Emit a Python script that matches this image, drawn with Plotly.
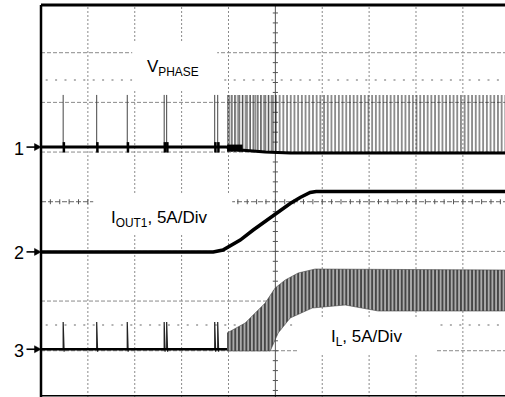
import plotly.graph_objects as go

# ---------------- data (oscilloscope divisions: x 0..10, y 0..8) ----------------
# isolated pre-start switching pulses (time, div)
pulse_t = [0.473, 1.188, 1.84, 2.628, 2.681, 3.706, 3.77]

# CH1  V_PHASE
vph_base_x = [0.0, 3.951, 4.25, 4.783, 5.316, 9.9]
vph_base_y = [5.102, 5.102, 5.041, 5.001, 4.98, 4.98]
vph_pulse_top = 6.15
vph_sw_x = [3.97, 9.9]          # continuous switching region
vph_sw_top = [6.15, 6.15]
vph_sw_low = [5.0, 4.98]
vph_dense_x = [3.97, 5.0]       # denser start-up switching
vph_burst_x = [3.97, 4.3]       # dense start-up burst at the baseline
vph_burst_y = [5.08, 5.08]

# CH2  I_OUT1 (5 A/div)
iout_x = [0.0, 3.674, 3.881, 4.02, 4.25, 4.527, 4.783, 5.018, 5.316, 5.529, 5.742, 5.87, 9.9]
iout_y = [2.988, 2.988, 3.028, 3.11, 3.229, 3.43, 3.601, 3.773, 3.964, 4.085, 4.186, 4.206, 4.206]

# CH3  I_L (5 A/div)
il_base_x = [0.0, 3.97]
il_base_y = [1.029, 1.029]
il_pulse_top = 1.578
il_low_x = [3.97, 4.89, 5.06, 5.316, 5.786, 6.49, 7.194, 9.9]
il_low_y = [0.995, 0.995, 1.357, 1.659, 1.86, 1.921, 1.8, 1.8]
il_up_x = [3.97, 4.356, 4.783, 4.996, 5.21, 5.487, 5.849, 9.9]
il_up_y = [1.357, 1.558, 1.961, 2.263, 2.424, 2.565, 2.645, 2.625]

ch_labels = ["1", "2", "3"]
ch_levels = [5.10, 2.99, 1.03]

# ---------------- layout geometry ----------------
W, H = 505, 397
ML, MT = 41, 5
PW, PH = W - ML, H - MT
XR = [0, 9.899]
YR = [0.0685, 7.9605]


def ypx(v):
    return MT + (YR[1] - v) / (YR[1] - YR[0]) * PH


def paper_x(px):
    return (px - ML) / PW


def paper_y(py):
    return (H - py) / PH


fig = go.Figure()
shapes = []
GRID = "#8a8a8a"

# grid
for k in range(1, 10):
    if k == 5:
        continue
    shapes.append(dict(type="line", xref="x", yref="y", x0=k, x1=k, y0=YR[0], y1=YR[1],
                       line=dict(color=GRID, width=1, dash="2px,2px"), layer="below"))
for j in [1, 2, 3, 5, 6, 7]:
    shapes.append(dict(type="line", xref="x", yref="y", x0=0, x1=XR[1], y0=j, y1=j,
                       line=dict(color=GRID, width=1, dash="4px,2px"), layer="below"))
# sparse dotted reference lines
for j in [6.45, 1.52]:
    shapes.append(dict(type="line", xref="x", yref="y", x0=0.1, x1=XR[1], y0=j, y1=j,
                       line=dict(color="#9a9a9a", width=1.5, dash="2px,7.4px"), layer="below"))
# centre axes with ticks
shapes.append(dict(type="line", xref="x", yref="y", x0=5, x1=5, y0=YR[0], y1=YR[1],
                   line=dict(color="#555", width=1), layer="below"))
shapes.append(dict(type="line", xref="x", yref="y", x0=0, x1=XR[1], y0=4, y1=4,
                   line=dict(color="#666", width=1, dash="5px,2px"), layer="below"))
path = ""
for k in range(1, 40):
    yy = k * 0.2
    path += f"M{5-0.055},{yy} L{5+0.055},{yy} "
for k in range(1, 50):
    xx = k * 0.2
    path += f"M{xx},{4-0.05} L{xx},{4+0.05} "
shapes.append(dict(type="path", xref="x", yref="y", path=path,
                   line=dict(color="#555", width=1), layer="below"))

# white label boxes
for (x0, x1, y0, y1) in [(1.946, 3.758, 6.249, 7.216), (1.114, 4.079, 3.37, 4.176),
                         (5.489, 8.41, 0.914, 1.679)]:
    shapes.append(dict(type="rect", xref="x", yref="y", x0=x0, x1=x1, y0=y0, y1=y1,
                       fillcolor="white", line=dict(width=0), layer="below"))

# frame
shapes.append(dict(type="line", xref="paper", yref="paper", x0=0, x1=1, y0=1, y1=1,
                   line=dict(color="black", width=3)))
shapes.append(dict(type="line", xref="paper", yref="paper", x0=0, x1=0, y0=0, y1=1,
                   line=dict(color="black", width=2.5)))
shapes.append(dict(type="line", xref="paper", yref="paper", x0=0, x1=1, y0=1.2 / PH, y1=1.2 / PH,
                   line=dict(color="black", width=1.5)))

# channel marker arrows (outside the plot area)
for lev in ch_levels:
    yp = ypx(lev)
    shapes.append(dict(type="line", xref="paper", yref="paper",
                       x0=paper_x(26.5), x1=paper_x(36), y0=paper_y(yp), y1=paper_y(yp),
                       line=dict(color="black", width=1.6)))
    shapes.append(dict(type="path", xref="paper", yref="paper",
                       path=f"M{paper_x(34.5)},{paper_y(yp - 3.5)} L{paper_x(41)},{paper_y(yp)} "
                            f"L{paper_x(34.5)},{paper_y(yp + 3.5)} Z",
                       fillcolor="black", line=dict(color="black", width=0.5)))

# ---------------- traces ----------------
# V_PHASE switching band
fig.add_trace(go.Scatter(
    x=vph_sw_x + vph_sw_x[::-1], y=vph_sw_low + vph_sw_top[::-1], mode="lines",
    fill="toself", fillcolor="rgba(0,0,0,0)", line=dict(width=0),
    fillpattern=dict(shape="|", fgcolor="black", bgcolor="rgba(0,0,0,0)",
                     size=3.7, solidity=0.45, fillmode="overlay"),
    hoverinfo="skip", showlegend=False))
fig.add_trace(go.Scatter(
    x=vph_dense_x + vph_dense_x[::-1], y=[5.0, 5.0, 6.15, 6.15], mode="lines",
    fill="toself", fillcolor="rgba(0,0,0,0)", line=dict(width=0),
    fillpattern=dict(shape="|", fgcolor="#222", bgcolor="rgba(0,0,0,0)",
                     size=2.6, solidity=0.35, fillmode="overlay"),
    hoverinfo="skip", showlegend=False))
# I_L ripple band
fig.add_trace(go.Scatter(
    x=il_low_x + il_up_x[::-1], y=il_low_y + il_up_y[::-1], mode="lines",
    fill="toself", fillcolor="#a8a8a8", line=dict(width=0.6, color="#444"),
    fillpattern=dict(shape="|", fgcolor="#111", bgcolor="#ababab",
                     size=3.7, solidity=0.33, fillmode="replace"),
    hoverinfo="skip", showlegend=False))

# pre-start pulses
px, py, bx, by, lx, ly = [], [], [], [], [], []
for t in pulse_t:
    px += [t, t, None]
    py += [vph_base_y[0], vph_pulse_top, None]
    bx += [t + 0.015, t + 0.015, None]
    by += [4.99, 5.2, None]
    lx += [t, t, t + 0.02, None]
    ly += [il_base_y[0], il_pulse_top, 0.98, None]
fig.add_trace(go.Scatter(x=px, y=py, mode="lines", line=dict(color="#444", width=1),
                         hoverinfo="skip", showlegend=False))
fig.add_trace(go.Scatter(x=bx, y=by, mode="lines", line=dict(color="black", width=2.5),
                         hoverinfo="skip", showlegend=False))
fig.add_trace(go.Scatter(x=lx, y=ly, mode="lines", line=dict(color="#222", width=1.2),
                         hoverinfo="skip", showlegend=False))

# baselines
fig.add_trace(go.Scatter(x=vph_base_x, y=vph_base_y, mode="lines",
                         line=dict(color="black", width=3), hoverinfo="skip", showlegend=False))
fig.add_trace(go.Scatter(x=vph_burst_x, y=vph_burst_y, mode="lines",
                         line=dict(color="black", width=7), hoverinfo="skip", showlegend=False))
fig.add_trace(go.Scatter(x=il_base_x, y=il_base_y, mode="lines",
                         line=dict(color="black", width=2.5), hoverinfo="skip", showlegend=False))
fig.add_trace(go.Scatter(x=iout_x, y=iout_y, mode="lines",
                         line=dict(color="black", width=3.5), hoverinfo="skip", showlegend=False))

# ---------------- text ----------------
FONT = "Liberation Sans, Arial, sans-serif"
ann = []
ann.append(dict(x=2.82, y=6.70, xref="x", yref="y", text="V<sub>PHASE</sub>", showarrow=False,
                font=dict(family=FONT, size=17, color="black")))
ann.append(dict(x=2.52, y=3.66, xref="x", yref="y", text="I<sub>OUT1</sub>, 5A/Div", showarrow=False,
                font=dict(family=FONT, size=17, color="black")))
ann.append(dict(x=6.94, y=1.25, xref="x", yref="y", text="I<sub>L</sub>, 5A/Div", showarrow=False,
                font=dict(family=FONT, size=17, color="black")))
for lab, lev in zip(ch_labels, ch_levels):
    ann.append(dict(x=paper_x(11.5), y=lev - 0.03, xref="paper", yref="y", text=lab,
                    showarrow=False, font=dict(family=FONT, size=18, color="black")))

fig.update_layout(
    width=W, height=H, margin=dict(l=ML, r=0, t=MT, b=0),
    paper_bgcolor="white", plot_bgcolor="white",
    xaxis=dict(range=XR, showgrid=False, zeroline=False, showticklabels=False, showline=False, fixedrange=True),
    yaxis=dict(range=YR, showgrid=False, zeroline=False, showticklabels=False, showline=False, fixedrange=True),
    shapes=shapes, annotations=ann, showlegend=False,
)
fig.write_html("out.html")
